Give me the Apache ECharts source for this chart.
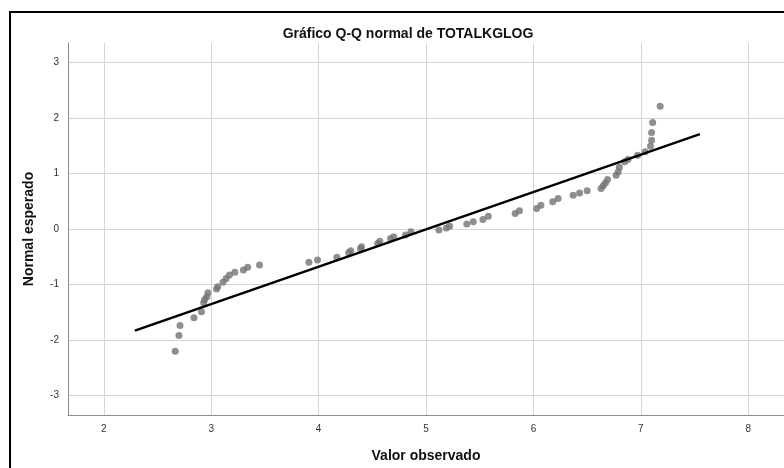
<!DOCTYPE html>
<html>
<head>
<meta charset="utf-8">
<script src="https://cdn.jsdelivr.net/npm/echarts@6/dist/echarts.min.js"></script>
<style>
  html, body { margin: 0; padding: 0; background: #fff; }
  #main { width: 784px; height: 468px; }
</style>
</head>
<body>
<div id="main"></div>
<script>
// valores observados (x) y normal esperado (y)
var observed = [2.665, 2.70, 2.71, 2.84, 2.91, 2.93, 2.94, 2.96, 2.97, 3.05, 3.06, 3.11, 3.14, 3.17, 3.22, 3.30,
    3.34, 3.45, 3.91, 3.99, 4.17, 4.28, 4.30, 4.39, 4.40, 4.55, 4.57, 4.67, 4.70, 4.81, 4.86, 5.12, 5.19,
    5.22, 5.38, 5.44, 5.53, 5.58, 5.83, 5.87, 6.03, 6.07, 6.18, 6.23, 6.37, 6.43, 6.50, 6.63, 6.65, 6.67,
    6.69, 6.77, 6.79, 6.80, 6.85, 6.88, 6.97, 7.04, 7.09, 7.10, 7.10, 7.11, 7.18];
var expected = [-2.20, -1.92, -1.74, -1.60, -1.49, -1.33, -1.27, -1.22, -1.15, -1.08, -1.04, -0.96, -0.89, -0.83,
    -0.78, -0.74, -0.69, -0.65, -0.60, -0.56, -0.51, -0.43, -0.39, -0.35, -0.32, -0.26, -0.22, -0.17, -0.14,
    -0.11, -0.05, -0.02, 0.02, 0.05, 0.09, 0.13, 0.17, 0.23, 0.28, 0.33, 0.37, 0.43, 0.49, 0.55, 0.61, 0.65,
    0.69, 0.73, 0.78, 0.83, 0.89, 0.97, 1.03, 1.11, 1.21, 1.25, 1.33, 1.39, 1.49, 1.60, 1.74, 1.92, 2.21];
// recta de referencia
var lineX = [2.29, 7.55];
var lineY = [-1.83, 1.71];
var xTicks = [2, 3, 4, 5, 6, 7, 8];
var yTicks = [-3, -2, -1, 0, 1, 2, 3];

var points = observed.map(function (v, i) { return [v, expected[i]]; });
var refLine = lineX.map(function (v, i) { return [v, lineY[i]]; });

var font = 'Arial, "Liberation Sans", sans-serif';
var tickFont = '"Liberation Sans Narrow", Arial, "Liberation Sans", sans-serif';

option = {
    backgroundColor: '#ffffff',
    animation: false,
    title: {
        text: 'Gráfico Q-Q normal de TOTALKGLOG',
        left: 403,
        textAlign: 'center',
        top: 22,
        textStyle: {
            fontFamily: font,
            fontWeight: 'bold',
            fontSize: 14,
            color: '#111'
        }
    },
    graphic: [{
        type: 'rect',
        shape: { x: 10, y: 12, width: 800, height: 480 },
        style: { fill: 'none', stroke: '#000', lineWidth: 2 },
        silent: true
    }],
    grid: {
        left: 68,
        top: 43,
        bottom: 51,
        right: -4
    },
    xAxis: {
        type: 'value',
        min: 1.667,
        max: 8.333,
        name: 'Valor observado',
        nameLocation: 'middle',
        nameGap: 34,
        nameTextStyle: {
            fontFamily: font,
            fontWeight: 'bold',
            fontSize: 14,
            color: '#111'
        },
        axisLine: { show: true, onZero: false, lineStyle: { color: '#8c8c8c', width: 1 } },
        axisTick: { show: false, customValues: xTicks },
        axisLabel: {
            customValues: xTicks,
            margin: 9,
            fontFamily: tickFont,
            fontSize: 10,
            color: '#333'
        },
        splitLine: { show: true, lineStyle: { color: '#d4d4d4', width: 1 } }
    },
    yAxis: {
        type: 'value',
        min: -3.35,
        max: 3.35,
        name: 'Normal esperado',
        nameLocation: 'middle',
        nameGap: 32,
        nameTextStyle: {
            fontFamily: font,
            fontWeight: 'bold',
            fontSize: 14,
            color: '#111'
        },
        axisLine: { show: true, onZero: false, lineStyle: { color: '#8c8c8c', width: 1 } },
        axisTick: { show: false, customValues: yTicks },
        axisLabel: {
            customValues: yTicks,
            margin: 9,
            fontFamily: tickFont,
            fontSize: 10,
            color: '#333'
        },
        splitLine: { show: true, lineStyle: { color: '#d4d4d4', width: 1 } }
    },
    series: [{
        name: 'Observado',
        type: 'scatter',
        symbol: 'circle',
        symbolSize: 7,
        itemStyle: { color: '#737373' },
        data: points,
        z: 2
    }, {
        name: 'Recta',
        type: 'line',
        showSymbol: false,
        symbol: 'none',
        lineStyle: { color: '#000', width: 2.5 },
        data: refLine,
        z: 3
    }]
};

var myChart = echarts.init(document.getElementById('main'));
myChart.setOption(option);
</script>
</body>
</html>
